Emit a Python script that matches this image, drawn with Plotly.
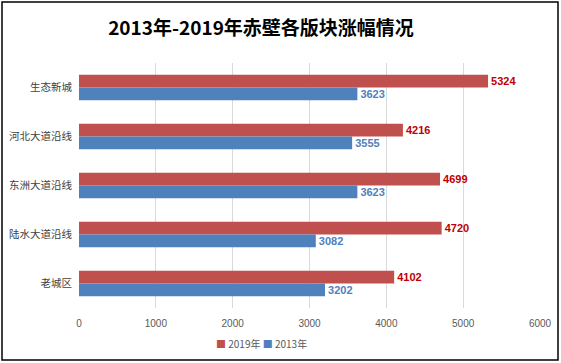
import plotly.graph_objects as go

categories = ["生态新城", "河北大道沿线", "东洲大道沿线", "陆水大道沿线", "老城区"]
values_2019 = [5324, 4216, 4699, 4720, 4102]
values_2013 = [3623, 3555, 3623, 3082, 3202]
x_ticks = [0, 1000, 2000, 3000, 4000, 5000, 6000]
series_names = ["2019年", "2013年"]
series_colors = ["#C0504D", "#4F81BD"]

W, H = 561, 363
ml, mr, mt, mb = 79, 21, 63, 55

fig = go.Figure()
fig.add_trace(go.Bar(
    y=categories, x=values_2019, orientation="h", name=series_names[0],
    marker=dict(color=series_colors[0], line=dict(width=0)),
    text=[f"<b>{v}</b>" for v in values_2019], textposition="outside",
    textfont=dict(color="#C00000", size=11, family="Liberation Sans"),
    cliponaxis=False,
))
fig.add_trace(go.Bar(
    y=categories, x=values_2013, orientation="h", name=series_names[1],
    marker=dict(color=series_colors[1], line=dict(width=0)),
    text=[f"<b>{v}</b>" for v in values_2013], textposition="outside",
    textfont=dict(color="#4F81BD", size=11, family="Liberation Sans"),
    cliponaxis=False,
))

pw = W - ml - mr
ph = H - mt - mb
fig.add_shape(type="rect", xref="paper", yref="paper",
              x0=(2 - ml) / pw, x1=(558 - ml) / pw,
              y0=-(360 - (H - mb)) / ph, y1=1 + (mt - 2) / ph,
              line=dict(color="black", width=1.5), fillcolor="rgba(0,0,0,0)", layer="below")

legend_text = " ".join(
    f"<span style='color:{c}'>■</span> <span style='color:#595959'>{n}</span>"
    for n, c in zip(series_names, series_colors)
)
fig.add_annotation(text=legend_text, xref="paper", yref="paper",
                   x=(261 - ml) / pw, y=-(343 - (H - mb)) / ph,
                   xanchor="center", yanchor="middle", showarrow=False,
                   font=dict(size=10, family="Noto Sans CJK SC"))

fig.update_layout(
    width=W, height=H,
    margin=dict(l=ml, r=mr, t=mt, b=mb, autoexpand=False),
    paper_bgcolor="white", plot_bgcolor="white",
    barmode="group", bargap=0.48, bargroupgap=0.0,
    title=dict(text="<b>2013年-2019年赤壁各版块涨幅情况</b>", x=261 / W, xanchor="center",
               y=1 - 28 / H, yanchor="middle",
               font=dict(size=19, color="#000000", family="Noto Sans CJK SC")),
    xaxis=dict(range=[0, 6000], tickvals=x_ticks, showgrid=True, gridcolor="#D9D9D9",
               gridwidth=1, zeroline=False, showline=False, automargin=False,
               tickfont=dict(size=10, color="#595959", family="Liberation Sans"),
               ticks="", ticklabelstandoff=8),
    yaxis=dict(categoryorder="array", categoryarray=categories, autorange="reversed",
               showgrid=False, showline=False, ticks="", automargin=False,
               tickfont=dict(size=10.5, color="#404040", family="Noto Sans CJK SC"),
               ticklabelstandoff=6),
    showlegend=False,
    font=dict(family="Noto Sans CJK SC"),
)

fig.write_html("out.html", config={"displayModeBar": False},
               post_script="document.body.style.margin='0';")
